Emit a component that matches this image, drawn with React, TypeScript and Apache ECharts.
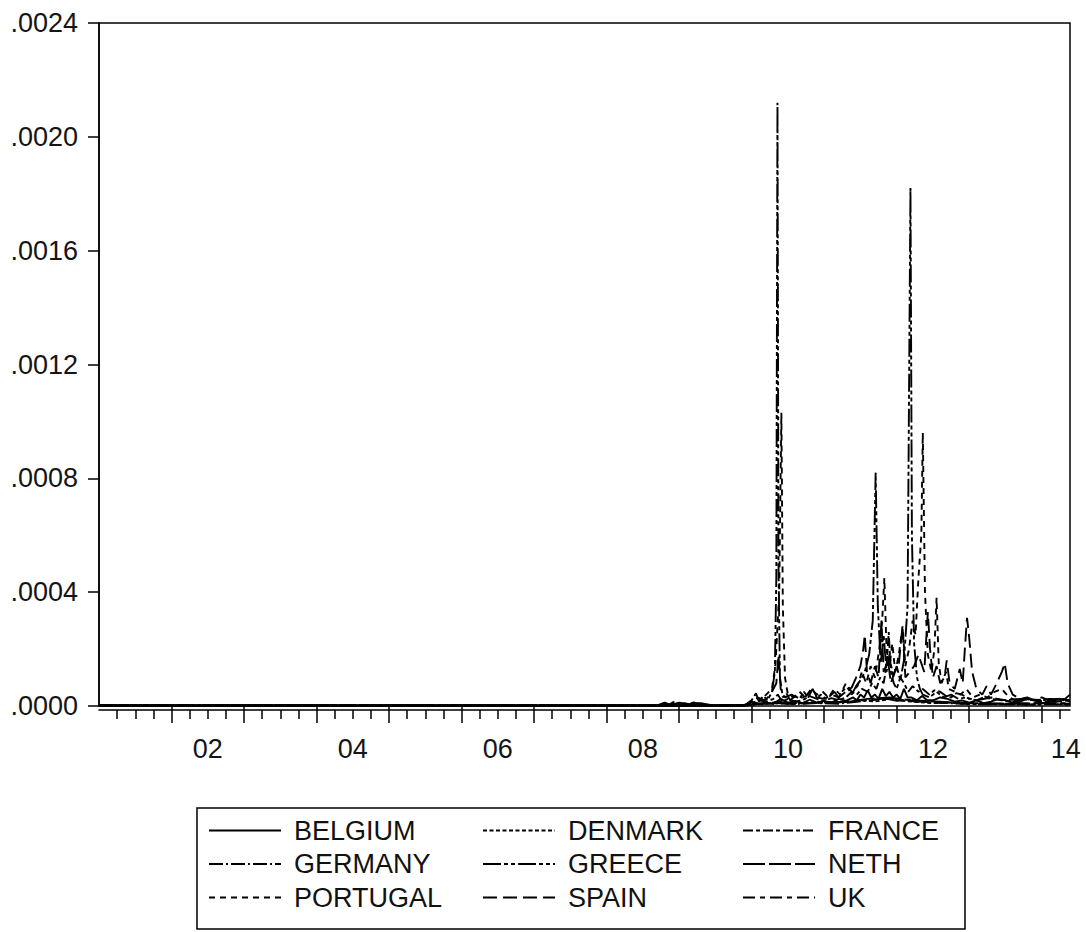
import React, { useEffect, useRef } from "react";
import * as echarts from "echarts";

// Values are in units of 1e-5 ([decimal year, value])
const UNIT = 1e-5;

const BELGIUM = [[2001.0,0.2],[2008.7,0.2],[2008.78,1.0],[2008.9,0.5],[2009.0,1.2],[2009.15,0.6],[2009.3,1.0],[2009.45,0.3],[2009.9,0.4],[2010.0,1.5],[2010.1,0.8],[2010.2,1.2],[2010.3,0.7],[2010.4,2.5],[2010.5,1.2],[2010.6,1.8],[2010.7,1.0],[2010.8,2.2],[2010.9,1.2],[2011.0,1.8],[2011.1,1.2],[2011.2,2.5],[2011.3,1.8],[2011.4,3.0],[2011.45,2.0],[2011.5,4.0],[2011.55,3.0],[2011.6,5.5],[2011.65,3.0],[2011.7,4.0],[2011.75,2.5],[2011.8,6.0],[2011.85,3.5],[2011.9,5.0],[2011.95,3.0],[2012.0,4.0],[2012.05,2.5],[2012.1,6.0],[2012.15,3.0],[2012.2,3.0],[2012.28,2.0],[2012.35,3.5],[2012.42,2.0],[2012.5,2.0],[2012.6,3.0],[2012.7,2.5],[2012.8,1.5],[2012.9,2.0],[2013.0,1.2],[2013.1,2.0],[2013.2,1.0],[2013.3,1.5],[2013.4,2.5],[2013.5,2.0],[2013.6,1.2],[2013.7,1.5],[2013.8,2.5],[2013.9,2.0],[2014.0,1.0],[2014.1,1.5],[2014.2,2.2],[2014.3,2.5],[2014.39,1.5]];

const DENMARK = [[2001.0,0.2],[2008.72,0.2],[2008.82,0.9],[2008.88,0.3],[2008.95,1.0],[2009.02,0.4],[2009.1,0.8],[2009.18,0.3],[2009.26,1.0],[2009.33,0.2],[2009.95,0.2],[2010.02,1.0],[2010.15,0.6],[2010.3,1.2],[2010.5,0.8],[2010.7,1.0],[2010.9,1.5],[2011.1,1.0],[2011.3,1.4],[2011.5,2.0],[2011.7,1.6],[2011.9,2.4],[2012.1,1.8],[2012.3,1.4],[2012.5,1.0],[2012.7,1.2],[2012.9,0.8],[2013.2,0.6],[2013.5,0.8],[2013.8,0.5],[2014.1,0.7],[2014.39,0.5]];

const FRANCE = [[2001.0,0.2],[2009.9,0.2],[2010.0,0.8],[2010.1,2.0],[2010.2,1.5],[2010.3,2.5],[2010.36,4.0],[2010.42,1.5],[2010.5,2.5],[2010.6,1.5],[2010.7,2.0],[2010.8,3.5],[2010.9,2.5],[2011.0,1.8],[2011.1,2.8],[2011.2,2.0],[2011.3,3.0],[2011.38,5.0],[2011.45,4.0],[2011.52,6.0],[2011.6,5.0],[2011.66,8.0],[2011.72,6.0],[2011.77,10.0],[2011.82,8.0],[2011.86,14.0],[2011.89,26.0],[2011.92,12.0],[2011.96,8.0],[2012.0,6.0],[2012.05,10.0],[2012.1,8.0],[2012.16,5.0],[2012.22,7.0],[2012.3,5.0],[2012.36,6.0],[2012.45,4.0],[2012.52,5.5],[2012.6,5.0],[2012.68,3.5],[2012.75,3.0],[2012.82,4.5],[2012.9,4.0],[2013.0,2.5],[2013.1,2.0],[2013.2,3.0],[2013.3,2.5],[2013.45,2.0],[2013.6,1.5],[2013.75,2.5],[2013.9,2.0],[2014.05,1.5],[2014.2,1.5],[2014.39,2.0]];

const GERMANY = [[2001.0,0.2],[2009.9,0.2],[2010.05,0.6],[2010.3,1.0],[2010.6,0.7],[2010.9,1.0],[2011.2,0.8],[2011.45,1.5],[2011.65,2.0],[2011.85,2.8],[2012.0,1.8],[2012.2,2.2],[2012.45,1.2],[2012.7,1.0],[2013.0,0.7],[2013.4,0.6],[2013.8,0.5],[2014.2,0.6],[2014.39,0.5]];

const GREECE = [[2001.0,0.2],[2008.75,0.2],[2008.8,1.2],[2008.86,0.4],[2008.92,1.4],[2008.98,0.5],[2009.05,1.1],[2009.12,0.4],[2009.2,1.3],[2009.28,0.6],[2009.33,0.2],[2009.95,0.3],[2010.0,2.0],[2010.06,4.5],[2010.1,1.5],[2010.16,3.5],[2010.22,2.0],[2010.28,5.0],[2010.32,12.0],[2010.34,45.0],[2010.356,212.0],[2010.37,50.0],[2010.39,10.0],[2010.43,3.0],[2010.48,4.5],[2010.53,2.0],[2010.6,3.5],[2010.66,2.5],[2010.72,5.0],[2010.78,3.0],[2010.84,6.0],[2010.9,3.0],[2010.96,4.0],[2011.02,2.5],[2011.08,3.5],[2011.14,5.0],[2011.2,3.0],[2011.26,5.5],[2011.32,6.5],[2011.38,4.0],[2011.44,7.0],[2011.5,9.0],[2011.56,12.0],[2011.62,18.0],[2011.67,30.0],[2011.71,82.0],[2011.74,35.0],[2011.78,15.0],[2011.82,25.0],[2011.86,12.0],[2011.9,18.0],[2011.95,10.0],[2012.0,14.0],[2012.05,9.0],[2012.1,16.0],[2012.15,35.0],[2012.19,182.0],[2012.21,60.0],[2012.24,22.0],[2012.28,10.0],[2012.32,6.0],[2012.36,4.0],[2012.45,3.0],[2012.55,5.0],[2012.65,3.0],[2012.75,4.0],[2012.85,2.5],[2012.95,3.0],[2013.1,2.0],[2013.3,3.0],[2013.5,2.0],[2013.7,2.5],[2013.9,2.0],[2014.1,2.5],[2014.39,2.0]];

const NETH = [[2001.0,0.2],[2009.9,0.2],[2010.1,0.8],[2010.5,1.0],[2010.9,1.2],[2011.3,1.5],[2011.6,2.5],[2011.9,3.0],[2012.2,2.0],[2012.6,1.5],[2013.0,1.0],[2013.5,0.8],[2014.0,1.0],[2014.39,0.8]];

const PORTUGAL = [[2001.0,0.2],[2009.9,0.2],[2009.97,1.5],[2010.05,3.0],[2010.12,2.0],[2010.2,4.0],[2010.28,6.0],[2010.33,15.0],[2010.38,40.0],[2010.41,103.0],[2010.43,35.0],[2010.46,10.0],[2010.5,4.0],[2010.58,3.0],[2010.66,5.0],[2010.74,3.0],[2010.82,6.0],[2010.9,4.0],[2010.98,5.0],[2011.06,3.0],[2011.14,6.0],[2011.22,4.0],[2011.3,8.0],[2011.38,5.0],[2011.46,7.0],[2011.52,12.0],[2011.58,8.0],[2011.64,14.0],[2011.7,10.0],[2011.76,20.0],[2011.8,30.0],[2011.83,45.0],[2011.86,20.0],[2011.9,14.0],[2011.94,22.0],[2011.98,12.0],[2012.03,18.0],[2012.08,28.0],[2012.12,14.0],[2012.17,20.0],[2012.22,30.0],[2012.26,25.0],[2012.3,45.0],[2012.34,60.0],[2012.36,96.0],[2012.39,40.0],[2012.43,18.0],[2012.48,12.0],[2012.52,20.0],[2012.55,38.0],[2012.58,15.0],[2012.62,8.0],[2012.68,12.0],[2012.72,6.0],[2012.8,5.0],[2012.88,4.0],[2012.96,6.0],[2013.05,3.0],[2013.15,4.0],[2013.25,3.0],[2013.35,5.0],[2013.45,6.0],[2013.55,3.0],[2013.65,2.0],[2013.8,2.5],[2014.0,2.0],[2014.2,2.5],[2014.39,2.0]];

const SPAIN = [[2001.0,0.2],[2009.9,0.2],[2009.98,1.0],[2010.08,3.0],[2010.18,2.0],[2010.26,4.0],[2010.34,8.0],[2010.37,18.0],[2010.4,6.0],[2010.46,3.0],[2010.55,4.0],[2010.65,2.5],[2010.75,3.5],[2010.83,5.5],[2010.9,3.0],[2011.0,2.5],[2011.1,4.0],[2011.2,3.0],[2011.3,5.0],[2011.38,6.5],[2011.44,10.0],[2011.5,14.0],[2011.54,20.0],[2011.56,25.0],[2011.59,12.0],[2011.64,8.0],[2011.7,14.0],[2011.75,10.0],[2011.79,30.0],[2011.82,12.0],[2011.88,16.0],[2011.92,8.0],[2011.97,12.0],[2012.03,15.0],[2012.08,28.0],[2012.12,10.0],[2012.18,12.0],[2012.24,14.0],[2012.3,18.0],[2012.38,12.0],[2012.43,33.0],[2012.46,20.0],[2012.5,10.0],[2012.55,14.0],[2012.6,8.0],[2012.66,10.0],[2012.69,16.0],[2012.73,8.0],[2012.8,6.0],[2012.87,13.0],[2012.91,8.0],[2012.94,20.0],[2012.97,31.0],[2013.0,24.0],[2013.04,12.0],[2013.1,6.0],[2013.18,4.0],[2013.24,7.0],[2013.3,4.0],[2013.38,8.0],[2013.45,12.0],[2013.49,15.0],[2013.53,8.0],[2013.6,4.0],[2013.7,2.5],[2013.8,3.0],[2013.9,2.0],[2014.0,3.0],[2014.1,2.0],[2014.2,3.0],[2014.3,2.0],[2014.39,4.0]];

const UK = [[2001.0,0.2],[2009.9,0.2],[2010.1,0.8],[2010.36,1.5],[2010.6,0.8],[2010.8,1.0],[2011.1,1.2],[2011.5,2.0],[2011.9,2.5],[2012.3,1.5],[2012.7,1.2],[2013.0,1.0],[2013.5,0.8],[2014.0,1.0],[2014.39,1.0]];

const SERIES_NAMES = ["BELGIUM","DENMARK","FRANCE","GERMANY","GREECE","NETH","PORTUGAL","SPAIN","UK"];
const SERIES_DATA = [BELGIUM, DENMARK, FRANCE, GERMANY, GREECE, NETH, PORTUGAL, SPAIN, UK];
const DASHES: (string | number[])[] = [
  "solid",
  [4, 2.5],
  [10, 3, 4, 3],
  [14, 3, 2, 3],
  [18, 3, 4, 3, 4, 3],
  [22, 4],
  [6, 5],
  [14, 6],
  [12, 5, 5, 5],
];
const LEGEND_COLUMNS = [
  ["BELGIUM", "GERMANY", "PORTUGAL"],
  ["DENMARK", "GREECE", "SPAIN"],
  ["FRANCE", "NETH", "UK"],
];

const X_MIN = 2001;
const X_MAX = 2014.39;
const X_LABEL_POS = [2002.5, 2004.5, 2006.5, 2008.5, 2010.5, 2012.5, 2014.33];
const X_LABELS = ["02", "04", "06", "08", "10", "12", "14"];
const Y_MAX = 0.0024;
const Y_STEP = 0.0004;

const FONT = "Liberation Sans, Arial, sans-serif";

export default function App() {
  const ref = useRef<HTMLDivElement>(null);
  useEffect(() => {
    if (!ref.current) return;
    const chart = echarts.init(ref.current, null, { renderer: "svg" });

    const yearTicks: number[] = [];
    const quarterTicks: number[] = [];
    for (let y = 2001; y <= 2014; y++) {
      if (y > 2001) yearTicks.push(y);
      for (let q = 1; q <= 3; q++) {
        const v = y + q * 0.25;
        if (v < X_MAX) quarterTicks.push(v);
      }
    }

    const labelStyle = { fontSize: 27, color: "#151515", fontFamily: FONT };

    chart.setOption({
      animation: false,
      backgroundColor: "#fff",
      grid: {
        left: 99,
        top: 23,
        right: 16,
        bottom: 226,
        show: true,
        borderColor: "#000",
        borderWidth: 1.5,
        backgroundColor: "transparent",
        outerBoundsMode: "none",
      },
      xAxis: [
        {
          type: "value",
          min: X_MIN,
          max: X_MAX,
          position: "bottom",
          offset: 4,
          axisLine: { show: true, onZero: false, lineStyle: { color: "#000", width: 1.5 } },
          axisTick: { show: true, customValues: quarterTicks, length: 9, lineStyle: { color: "#000", width: 1.5 } },
          axisLabel: {
            show: true,
            customValues: X_LABEL_POS,
            margin: 25,
            formatter: (v: number) => X_LABELS[X_LABEL_POS.indexOf(v)] ?? "",
            ...labelStyle,
          },
          splitLine: { show: false },
        },
        {
          type: "value",
          min: X_MIN,
          max: X_MAX,
          position: "bottom",
          offset: 4,
          axisLine: { show: false },
          axisTick: { show: true, customValues: yearTicks, length: 17, lineStyle: { color: "#000", width: 1.5 } },
          axisLabel: { show: false },
          splitLine: { show: false },
        },
      ],
      yAxis: {
        type: "value",
        min: 0,
        max: Y_MAX,
        interval: Y_STEP,
        axisLine: { show: true, lineStyle: { color: "#000", width: 1.5 } },
        axisTick: { show: true, inside: false, length: 11, lineStyle: { color: "#000", width: 1.5 } },
        axisLabel: {
          margin: 21,
          formatter: (v: number) => v.toFixed(4).replace(/^0/, ""),
          ...labelStyle,
        },
        splitLine: { show: false },
      },
      legend: LEGEND_COLUMNS.map((col, i) => ({
        data: col,
        orient: "vertical",
        left: [208, 482, 742][i],
        top: 814,
        padding: 0,
        itemWidth: 72,
        itemHeight: 14,
        itemGap: 0.5,
        selectedMode: false,
        itemStyle: { opacity: 0 },
        textStyle: { ...labelStyle, color: "#111", lineHeight: 33, padding: [0, 0, 0, 8] },
      })),
      graphic: [
        {
          type: "rect",
          shape: { x: 197, y: 808, width: 768, height: 121 },
          style: { fill: "none", stroke: "#000", lineWidth: 1.5 },
          silent: true,
        },
      ],
      series: SERIES_NAMES.map((name, i) => ({
        name,
        type: "line",
        xAxisIndex: 0,
        symbol: "none",
        showSymbol: false,
        silent: true,
        emphasis: { disabled: true },
        lineStyle: { color: "#000", width: 1.9, type: DASHES[i] },
        itemStyle: { color: "#000" },
        data: SERIES_DATA[i].map(([x, v]) => [x, v * UNIT]),
      })),
    });
    return () => chart.dispose();
  }, []);

  return (
    <div
      ref={ref}
      style={{ position: "fixed", left: 0, top: 0, width: 1086, height: 932, background: "#fff" }}
    />
  );
}
